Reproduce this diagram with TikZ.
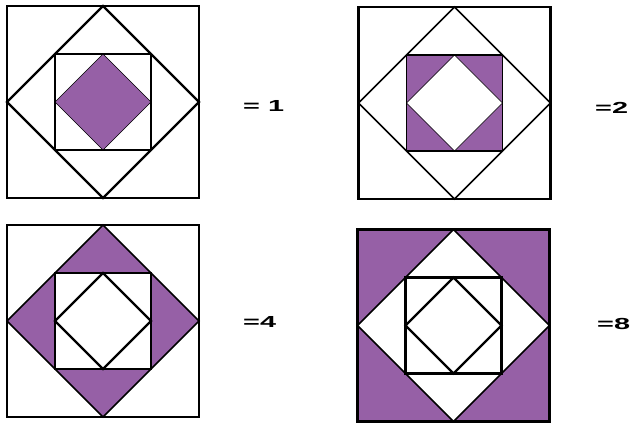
\documentclass[tikz,border=0pt]{standalone}
\usepackage{fontspec}
\setmainfont{Liberation Sans}
\definecolor{qpurple}{RGB}{150,96,166}
\tikzset{
  outersq/.style={draw=black,line width=2.3pt},
  thickln/.style={draw=black,line width=2.2pt},
  medln/.style={draw=black,line width=1.5pt},
  thinln/.style={draw=black,line width=0.6pt},
  purplefill/.style={fill=qpurple},
  lbl/.style={anchor=west,inner sep=0pt,font=\fontsize{16}{16}\selectfont\bfseries}
}
\newcommand{\wide}[1]{\scalebox{1.8}[1]{#1}}
\begin{document}
\begin{tikzpicture}[x=1pt,y=-1pt]
\useasboundingbox (0,0) rectangle (639,423);
% Block 1
\begin{scope}[shift={(103,102)}]
  \path[purplefill] (0,-48) -- (48,0) -- (0,48) -- (-48,0) -- cycle;
  \path[thinln] (0,-48) -- (48,0) -- (0,48) -- (-48,0) -- cycle;
  \path[thickln] (-48,-48) rectangle (48,48);
  \path[thickln] (0,-96) -- (96,0) -- (0,96) -- (-96,0) -- cycle;
  \path[outersq] (-96,-96) rectangle (96,96);
\end{scope}
% Block 2
\begin{scope}[shift={(454.5,103)}]
  \path[purplefill,even odd rule] (-48,-48) rectangle (48,48) (0,-48) -- (48,0) -- (0,48) -- (-48,0) -- cycle;
  \path[thinln] (0,-48) -- (48,0) -- (0,48) -- (-48,0) -- cycle;
  \path[medln] (-48,-48) rectangle (48,48);
  \path[medln] (0,-96) -- (96,0) -- (0,96) -- (-96,0) -- cycle;
  \path[outersq] (-96,-96) rectangle (96,96);
\end{scope}
% Block 3
\begin{scope}[shift={(103,321)}]
  \path[purplefill,even odd rule] (0,-96) -- (96,0) -- (0,96) -- (-96,0) -- cycle (-48,-48) rectangle (48,48);
  \path[thickln] (0,-48) -- (48,0) -- (0,48) -- (-48,0) -- cycle;
  \path[medln] (-48,-48) rectangle (48,48);
  \path[medln] (0,-96) -- (96,0) -- (0,96) -- (-96,0) -- cycle;
  \path[outersq] (-96,-96) rectangle (96,96);
\end{scope}
% Block 4
\begin{scope}[shift={(453.5,325.5)}]
  \path[purplefill,even odd rule] (-96,-96) rectangle (96,96) (0,-96) -- (96,0) -- (0,96) -- (-96,0) -- cycle;
  \path[thickln] (0,-48) -- (48,0) -- (0,48) -- (-48,0) -- cycle;
  \path[thickln] (-48,-48) rectangle (48,48);
  \path[medln] (0,-96) -- (96,0) -- (0,96) -- (-96,0) -- cycle;
  \path[outersq] (-96,-96) rectangle (96,96);
\end{scope}
% Labels
\node[lbl] (l1) at (243,105.5) {\wide{= 1}};
\node[lbl] (l2) at (595,107.5) {\wide{=2}};
\node[lbl] (l4) at (243,322) {\wide{=4}};
\node[lbl] (l8) at (597,323.5) {\wide{=8}};
\end{tikzpicture}
\end{document}
